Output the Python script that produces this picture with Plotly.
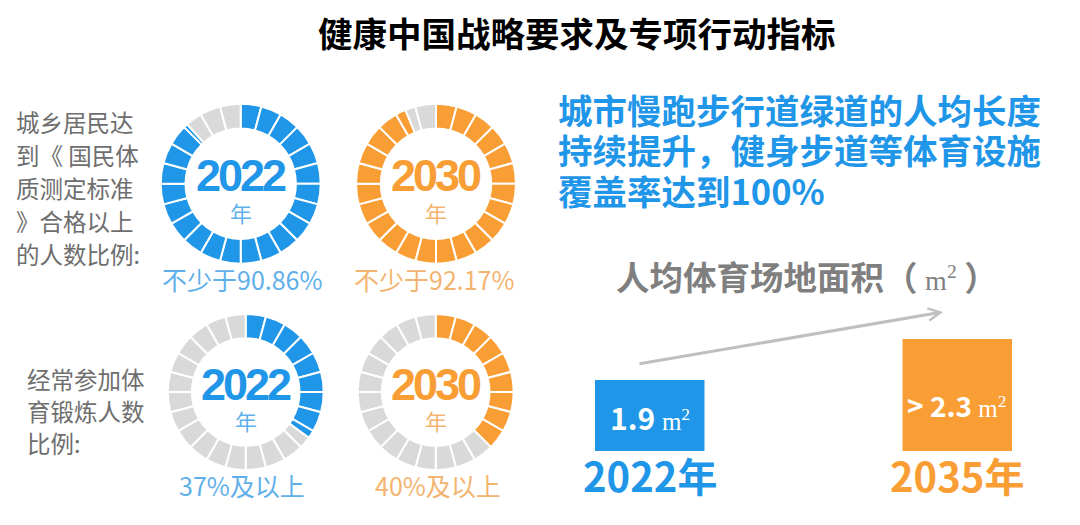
import plotly.graph_objects as go

# browser body keeps its 8px margin, so the figure is 8px smaller each way
PAD = 8
W, H = 1080 - PAD, 525 - PAD
FONT = "Noto Sans CJK SC"
SANS = "Liberation Sans"
SERIF = "Liberation Serif"

BLUE = "#1f96e8"
ORANGE = "#f99d35"
GRAY = "#d9d9d9"
BLUE_TXT = "#5fb0ea"
ORANGE_TXT = "#f3b470"

SEGMENTS = 24
ring_years = ["2022", "2030", "2022", "2030"]
ring_filled = [21.2, 22.5, 8.4, 9.0]  # segments coloured
ring_labels = ["不少于90.86%", "不少于92.17%", "37%及以上", "40%及以上"]
ring_colors = [BLUE, ORANGE, BLUE, ORANGE]
ring_text = [BLUE_TXT, ORANGE_TXT, BLUE_TXT, ORANGE_TXT]
ring_cx = [240.7, 436, 245.7, 435.7]
ring_cy = [183.7, 183.7, 392, 392]
ring_r = [80, 80, 78, 78]
ring_label_cx = [242, 434, 242, 438]
ring_label_cy = [279, 279, 485, 485]

area_years = ["2022年", "2035年"]
area_values = [1.9, 2.3]
area_labels = ["1.9", "&gt; 2.3"]
area_colors = [BLUE, ORANGE]

left_top = ["城乡居民达", "到《 国民体", "质测定标准", "》合格以上", "的人数比例:"]
left_bottom = ["经常参加体", "育锻炼人数", "比例:"]
goal_lines = ["城市慢跑步行道绿道的人均长度", "持续提升，健身步道等体育设施", "覆盖率达到100%"]


def px(x):
    return (x - PAD) / W


def py(y):
    return 1 - (y - PAD) / H


def ring_slices(filled, color):
    vals, cols = [], []
    for i in range(SEGMENTS):
        part = filled - i
        if part >= 1:
            vals.append(1); cols.append(color)
        elif part <= 0:
            vals.append(1); cols.append(GRAY)
        else:
            vals += [part, 1 - part]; cols += [color, GRAY]
    return vals, cols


def label(x, y, text, size, color, bold=False, anchor="center", family=FONT):
    if bold:
        text = f"<b>{text}</b>"
    return dict(xref="paper", yref="paper", x=px(x), y=py(y), text=text,
                showarrow=False, xanchor=anchor, yanchor="middle",
                font=dict(family=family, size=size, color=color))


def unit(size):
    # thin serif m with a small 2, as in the original
    return (f'<span style="font-family:{SERIF};font-weight:normal;font-size:{size}px">m'
            f'<sup>2</sup></span>')


fig = go.Figure()
notes = []

for i in range(4):
    vals, cols = ring_slices(ring_filled[i], ring_colors[i])
    cx, cy, r = ring_cx[i], ring_cy[i], ring_r[i]
    fig.add_trace(go.Pie(
        values=vals, sort=False, direction="clockwise", rotation=0, hole=0.69,
        marker=dict(colors=cols, line=dict(color="white", width=2)),
        textinfo="none", hoverinfo="skip", showlegend=False,
        domain=dict(x=[px(cx - r), px(cx + r)], y=[py(cy + r), py(cy - r)]),
    ))
    year = f'<span style="letter-spacing:-3px">{ring_years[i]}</span>'
    notes.append(label(cx, cy - 8, year, 45, ring_colors[i], bold=True, family=SANS))
    notes.append(label(cx, cy + 28, "年", 22, ring_text[i]))
    notes.append(label(ring_label_cx[i], ring_label_cy[i], ring_labels[i], 25, ring_text[i]))

# bars sit on their own hidden axes, the baseline is cut off like in the original
fig.add_trace(go.Bar(x=area_years, y=area_values, width=0.356, marker=dict(color=area_colors, line_width=0),
                     hoverinfo="skip", showlegend=False, xaxis="x", yaxis="y"))
for i in range(2):
    notes.append(dict(xref="x", yref="paper", x=area_years[i], y=py(417 if i == 0 else 405),
                      text=f"<b>{area_labels[i]}</b> {unit(25)}", showarrow=False, yanchor="middle",
                      font=dict(family=FONT, size=30 if i == 0 else 28, color="white")))
    notes.append(dict(xref="x", yref="paper", x=area_years[i], y=py(475),
                      text=f"<b>{area_years[i]}</b>", showarrow=False, yanchor="middle",
                      font=dict(family=FONT, size=40, color=area_colors[i])))

notes.append(label(577, 32, "健康中国战略要求及专项行动指标", 34.5, "black", bold=True))
for i, t in enumerate(left_top):
    notes.append(label(14, 122 + i * 33, t, 23.5, "#6e6e6e", anchor="left"))
for i, t in enumerate(left_bottom):
    notes.append(label(25, 379 + i * 32, t, 23.5, "#6e6e6e", anchor="left"))
for i, t in enumerate(goal_lines):
    notes.append(label(556, 109 + i * 40.5, t, 34.5, BLUE, bold=True, anchor="left"))
notes.append(label(614, 275, f"<b>人均体育场地面积（ </b>{unit(28)}<b> ）</b>", 33.5, "#7f7f7f", anchor="left"))
notes.append(dict(xref="paper", yref="paper", axref="pixel", ayref="pixel",
                  x=px(943), y=py(312), ax=-305, ay=52,
                  text="", showarrow=True, arrowhead=5, arrowsize=0.8, arrowwidth=3, arrowcolor="#bfbfbf"))

fig.update_layout(
    width=W, height=H, margin=dict(l=0, r=0, t=0, b=0),
    paper_bgcolor="white", plot_bgcolor="white",
    annotations=notes,
    xaxis=dict(domain=[px(595), px(1012)], range=[-0.178, 1.178], visible=False),
    yaxis=dict(domain=[py(451), py(339)], range=[1.207, 2.3], visible=False),
)
fig.write_html("out.html")
